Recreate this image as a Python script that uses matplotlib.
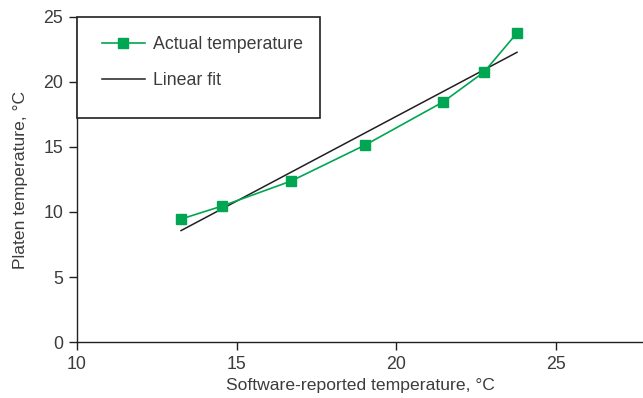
import numpy as np
import matplotlib.pyplot as plt
from matplotlib.patches import Rectangle

plt.rcParams['font.family'] = ['Liberation Sans', 'DejaVu Sans']

# software-reported vs. measured platen temperature (°C)
reported = [13.26, 14.55, 16.71, 19.03, 21.47, 22.76, 23.79]
actual = [9.46, 10.46, 12.38, 15.15, 18.46, 20.77, 23.77]

x_ticks = [10, 15, 20, 25]
y_ticks = [0, 5, 10, 15, 20, 25]

text_col = '#3c3c3c'
green = '#00a651'

fig = plt.figure(figsize=(6.43, 3.98), dpi=100)
ax = fig.add_axes([0.1198, 0.1407, 0.8802, 0.8166])

ax.plot(reported, actual, color=green, lw=1.2, marker='s', ms=7,
        mec=green, mfc=green, label='Actual temperature', zorder=3)

# least-squares line over the measured range
slope, icpt = np.polyfit(reported, actual, 1)
xs = np.array([min(reported), max(reported)])
ax.plot(xs, slope * xs + icpt, color='#231f20', lw=1.1, label='Linear fit', zorder=2)

ax.set_xlim(10, 27.74)
ax.set_ylim(0, 25)
ax.set_xticks(x_ticks)
ax.set_yticks(y_ticks)

for s in ['top', 'right']:
    ax.spines[s].set_visible(False)
for s in ['left', 'bottom']:
    ax.spines[s].set_color('#231f20')
    ax.spines[s].set_linewidth(1.0)

ax.tick_params(direction='out', length=6, width=1, color='#231f20',
               labelsize=12.8, labelcolor=text_col, pad=4)

ax.set_xlabel('Software-reported temperature, °C', fontsize=12.6, color=text_col, labelpad=4)
ax.set_ylabel('Platen temperature, °C', fontsize=12.6, color=text_col, labelpad=11)

# boxed legend in the top-left corner
box = Rectangle((0, 0.689), 0.4293, 0.311, transform=ax.transAxes,
                facecolor='white', edgecolor='#231f20', lw=1.2, zorder=4, clip_on=False)
ax.add_patch(box)
leg = ax.legend(loc='upper left', bbox_to_anchor=(0.044, 0.94), frameon=False,
                fontsize=12.8, handlelength=2.4, handletextpad=0.45,
                labelspacing=1.05, borderpad=0, borderaxespad=0)
leg.set_zorder(5)
for t in leg.get_texts():
    t.set_color(text_col)

fig.savefig('out.png', dpi=100)
